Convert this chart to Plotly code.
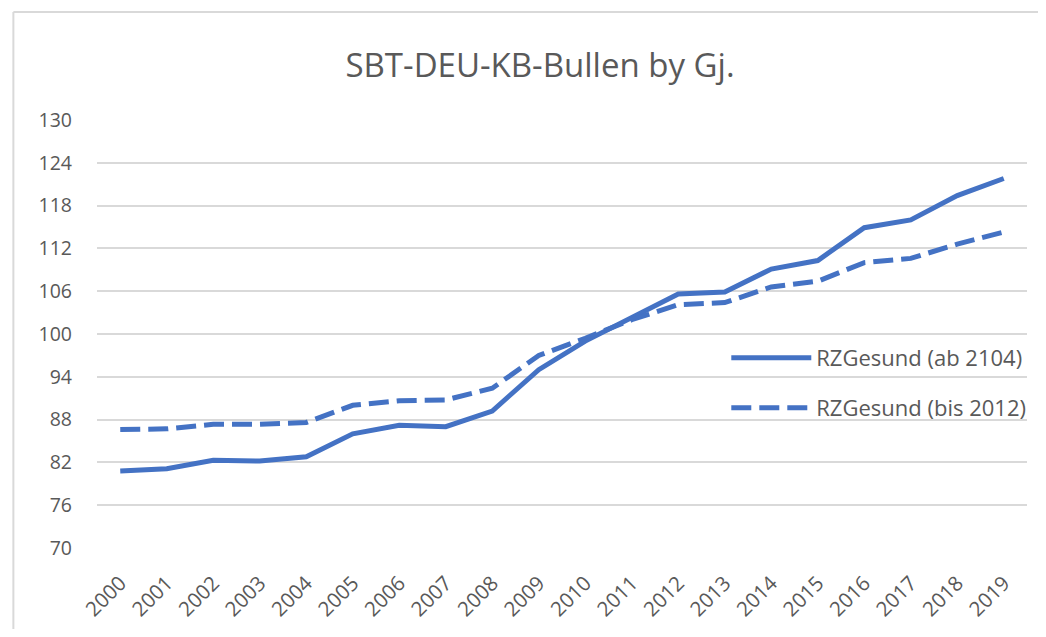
import plotly.graph_objects as go

years = [str(y) for y in range(2000, 2020)]
rz_ab_2104 = [80.8, 81.1, 82.3, 82.2, 82.8, 86.0, 87.2, 87.0, 89.2, 95.0,
              99.0, 102.3, 105.6, 105.9, 109.1, 110.3, 114.9, 116.0, 119.4, 121.8]
rz_bis_2012 = [86.6, 86.7, 87.35, 87.35, 87.6, 90.0, 90.65, 90.75, 92.4, 97.0,
               99.4, 102.0, 104.1, 104.4, 106.6, 107.4, 110.0, 110.6, 112.6, 114.3]
y_ticks = [70, 76, 82, 88, 94, 100, 106, 112, 118, 124, 130]

BLUE = "#4472C4"
TXT = "#595959"
GRID = "#d9d9d9"
FONT = "Open Sans"

# page body has an 8px default margin; figure coordinates are page - 8
W, H = 1030, 621
L, R, T, B = 89, 7, 112, 81
PW, PH = W - L - R, H - T - B

fig = go.Figure()
fig.add_trace(go.Scatter(x=years, y=rz_ab_2104, mode="lines", name="RZGesund (ab 2104)",
                         line=dict(color=BLUE, width=5), legend="legend"))
fig.add_trace(go.Scatter(x=years, y=rz_bis_2012, mode="lines", name="RZGesund (bis 2012)",
                         line=dict(color=BLUE, width=5, dash="20px,8px"), legend="legend2"))

leg_common = dict(xanchor="left", yanchor="middle", bgcolor="rgba(0,0,0,0)",
                  font=dict(family=FONT, size=22, color=TXT), itemwidth=80)

bx = (5 - L) / PW
by = 1 + (T - 4) / PH

fig.update_layout(
    width=W, height=H,
    margin=dict(l=L, r=R, t=T, b=B),
    paper_bgcolor="white", plot_bgcolor="white",
    showlegend=True,
    font=dict(family=FONT, color=TXT),
    title=dict(text="SBT-DEU-KB-Bullen by Gj.", x=532 / W, xanchor="center",
               y=1 - 57 / H, yanchor="middle",
               font=dict(family=FONT, size=33, color=TXT)),
    xaxis=dict(type="category", range=[-0.5, 19.5], tickangle=-45, showgrid=False,
               showline=False, zeroline=False, ticks="outside", ticklen=14,
               tickcolor="rgba(0,0,0,0)",
               tickfont=dict(family=FONT, size=20.5, color=TXT)),
    yaxis=dict(range=[70, 130], tickvals=y_ticks, showgrid=True, gridcolor=GRID,
               gridwidth=1.5, zeroline=False, showline=False, ticks="",
               ticklabelstandoff=24, tickfont=dict(family=FONT, size=19.5, color=TXT)),
    legend=dict(x=(721 - L) / PW, y=(540 - 350) / PH, **leg_common),
    legend2=dict(x=(721 - L) / PW, y=(540 - 400) / PH, **leg_common),
    shapes=[
        dict(type="line", xref="paper", yref="paper", x0=bx, x1=bx,
             y0=-B / PH - 0.05, y1=by, line=dict(color=GRID, width=2)),
        dict(type="line", xref="paper", yref="paper", x0=bx, x1=1 + R / PW + 0.05,
             y0=by, y1=by, line=dict(color=GRID, width=2)),
    ],
)

fig.write_html("out.html")
